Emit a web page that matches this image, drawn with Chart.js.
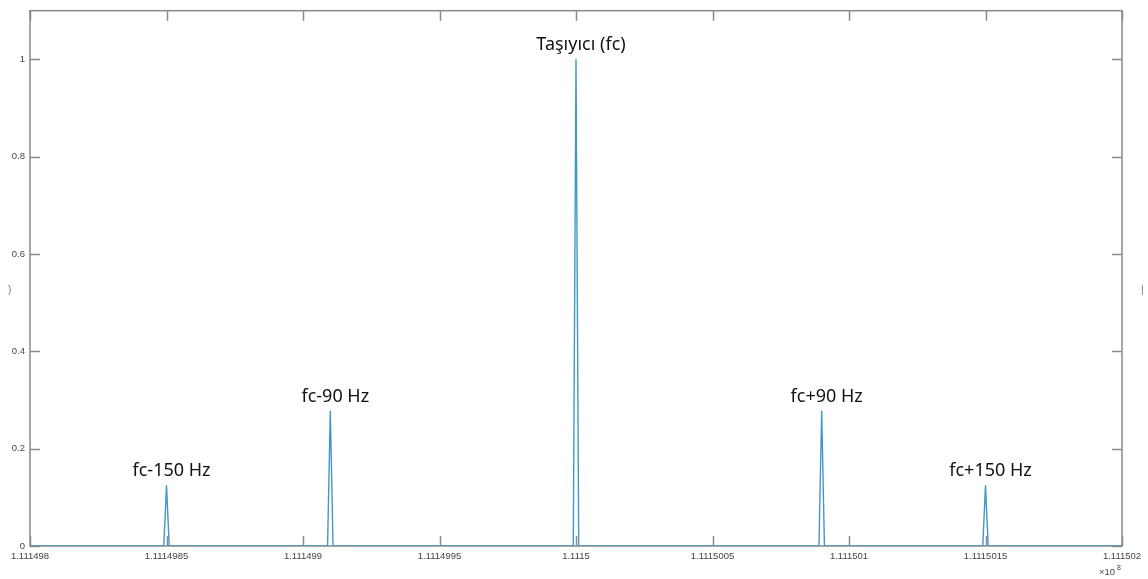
<!DOCTYPE html>
<html>
<head>
<meta charset="utf-8">
<script src="https://cdn.jsdelivr.net/npm/chart.js@4/dist/chart.umd.min.js"></script>
<style>
    html, body { margin: 0; padding: 0; background: #fff; }
    #spectrum { display: block; }
</style>
</head>
<body>
<canvas id="spectrum" width="1148" height="579"></canvas>
<script>
// frequency (Hz) and normalised amplitude of each spectral line
var freqs = [111149800, 111149849, 111149850, 111149851, 111149909, 111149910, 111149911,
             111149999, 111150000, 111150001, 111150089, 111150090, 111150091,
             111150149, 111150150, 111150151, 111150200];
var amps = [0, 0, 0.125, 0, 0, 0.278, 0, 0, 1, 0, 0, 0.278, 0, 0, 0.125, 0, 0];

var xTicks = [111149800, 111149850, 111149900, 111149950, 111150000, 111150050, 111150100, 111150150, 111150200];
var yTicks = [0, 0.2, 0.4, 0.6, 0.8, 1];

var peakLabels = ['fc-150 Hz', 'fc-90 Hz', 'Taşıyıcı (fc)', 'fc+90 Hz', 'fc+150 Hz'];
var peakFreqs = [111149850, 111149910, 111150000, 111150090, 111150150];
var peakAmps = [0.125, 0.278, 1, 0.278, 0.125];

var points = [];
for (var i = 0; i < freqs.length; i++) {
    points.push({ x: freqs[i], y: amps[i] });
}

function fmtX(v) {
    return String(parseFloat((v / 1e8).toPrecision(8)));
}

var matlabBox = {
    id: 'matlabBox',
    beforeDatasetsDraw: function (chart) {
        var ctx = chart.ctx;
        var a = chart.chartArea;
        var xs = chart.scales.x, ys = chart.scales.y;
        ctx.save();
        ctx.strokeStyle = '#8a8a8a';
        ctx.lineWidth = 1.5;
        ctx.strokeRect(a.left, a.top, a.right - a.left, a.bottom - a.top);
        ctx.beginPath();
        xTicks.forEach(function (t) {
            var px = Math.round(xs.getPixelForValue(t)) + 0.5;
            ctx.moveTo(px, a.bottom); ctx.lineTo(px, a.bottom - 10);
            ctx.moveTo(px, a.top); ctx.lineTo(px, a.top + 10);
        });
        yTicks.forEach(function (t) {
            var py = Math.round(ys.getPixelForValue(t)) + 0.5;
            ctx.moveTo(a.left, py); ctx.lineTo(a.left + 10, py);
            ctx.moveTo(a.right, py); ctx.lineTo(a.right - 10, py);
        });
        ctx.stroke();
        ctx.restore();
    },
    afterDraw: function (chart) {
        var ctx = chart.ctx;
        var a = chart.chartArea;
        var xs = chart.scales.x, ys = chart.scales.y;
        ctx.save();
        // exponent under the last x tick
        ctx.fillStyle = '#444';
        ctx.textBaseline = 'alphabetic';
        ctx.textAlign = 'left';
        ctx.font = '9.5px "Liberation Sans", Arial, sans-serif';
        ctx.fillText('\u00d710', a.right - 23, a.bottom + 29);
        ctx.font = '7px "Liberation Sans", Arial, sans-serif';
        ctx.fillText('8', a.right - 5, a.bottom + 24);
        // clipped axis label remnants at the edges
        ctx.fillStyle = '#777';
        ctx.font = '10px "Liberation Sans", Arial, sans-serif';
        ctx.fillText(')', 8, 293);
        ctx.fillText('|', 1141, 293);
        // peak annotations
        ctx.fillStyle = '#111';
        ctx.textAlign = 'center';
        ctx.font = '18px "Noto Sans", "Open Sans", sans-serif';
        for (var i = 0; i < peakLabels.length; i++) {
            var px = xs.getPixelForValue(peakFreqs[i]) + 5;
            var py = ys.getPixelForValue(peakAmps[i]) - 9;
            ctx.fillText(peakLabels[i], px, py);
        }
        ctx.restore();
    }
};

var ctx = document.getElementById('spectrum');
var spectrumChart = new Chart(ctx, {
    type: 'line',
    data: {
        datasets: [{
            data: points,
            borderColor: '#4198c6',
            borderWidth: 1.4,
            pointRadius: 0,
            tension: 0,
            fill: false
        }]
    },
    options: {
        responsive: false,
        animation: false,
        parsing: false,
        layout: { padding: { top: 8, right: 26, left: 0, bottom: 0 } },
        plugins: {
            legend: { display: false },
            tooltip: { enabled: false }
        },
        scales: {
            x: {
                type: 'linear',
                min: 111149800,
                max: 111150200,
                grid: { display: false, drawTicks: false },
                border: { display: false },
                afterBuildTicks: function (scale) {
                    scale.ticks = xTicks.map(function (v) { return { value: v }; });
                },
                afterFit: function (scale) { scale.height = 33; },
                ticks: {
                    autoSkip: false,
                    maxRotation: 0,
                    padding: 5,
                    color: '#444',
                    font: { family: '"Liberation Sans", Arial, sans-serif', size: 9.5 },
                    callback: function (v) { return fmtX(v); }
                }
            },
            y: {
                type: 'linear',
                min: 0,
                max: 1.1,
                grid: { display: false, drawTicks: false },
                border: { display: false },
                afterBuildTicks: function (scale) {
                    scale.ticks = yTicks.map(function (v) { return { value: v }; });
                },
                afterFit: function (scale) { scale.width = 30; },
                ticks: {
                    padding: 5,
                    color: '#444',
                    font: { family: '"Liberation Sans", Arial, sans-serif', size: 9.5 },
                    callback: function (v) { return String(parseFloat(v.toFixed(1))); }
                }
            }
        }
    },
    plugins: [matlabBox]
});
</script>
</body>
</html>
